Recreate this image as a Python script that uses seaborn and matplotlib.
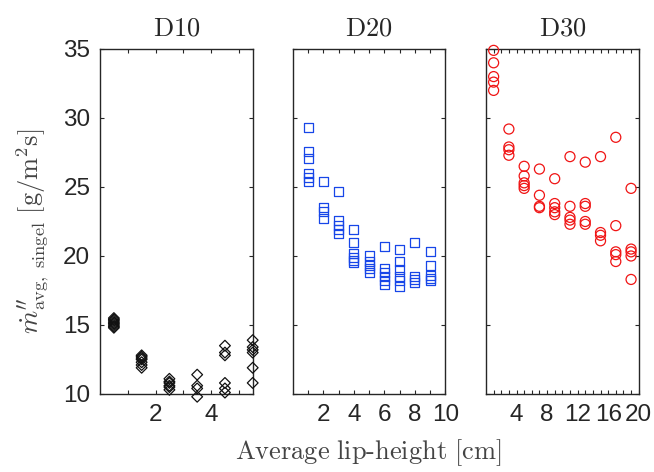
import numpy as np
import pandas as pd
import matplotlib
matplotlib.use("Agg")
import matplotlib.pyplot as plt
import seaborn as sns

# Lip heights [cm] per duct and measured single-point averages [g/m^2 s]
d10_x = [0.5, 1.5, 2.5, 3.5, 4.5, 5.5]
d10_y = [
    [14.8, 14.9, 15.0, 15.1, 15.2, 15.3, 15.4, 15.5],
    [12.8, 12.7, 12.6, 12.5, 12.3, 12.1, 11.9],
    [11.1, 10.9, 10.8, 10.6, 10.5, 10.3],
    [11.4, 10.6, 10.4, 9.8],
    [13.5, 13.0, 12.8, 10.8, 10.4, 10.1],
    [13.9, 13.4, 13.2, 13.0, 11.9, 10.8],
]

d20_x = [1, 2, 3, 4, 5, 6, 7, 8, 9]
d20_y = [
    [29.3, 27.6, 27.1, 26.0, 25.7, 25.4],
    [25.4, 23.5, 23.2, 22.7],
    [24.7, 22.6, 22.2, 21.9, 21.6],
    [21.9, 21.0, 20.2, 19.9, 19.7, 19.5],
    [20.0, 19.6, 19.3, 19.1, 18.8],
    [20.7, 19.1, 18.8, 18.5, 18.2, 17.9],
    [20.5, 19.6, 19.0, 18.5, 18.2, 17.8],
    [21.0, 18.5, 18.3, 18.1],
    [20.3, 19.3, 18.6, 18.4, 18.2],
]

d30_x = [1, 3, 5, 7, 9, 11, 13, 15, 17, 19]
d30_y = [
    [34.9, 34.0, 33.0, 32.6, 32.0],
    [29.2, 27.9, 27.7, 27.3],
    [26.5, 25.8, 25.3, 25.1, 24.9],
    [26.3, 24.4, 23.6, 23.5],
    [25.6, 23.8, 23.5, 23.2, 23.0],
    [27.2, 23.6, 22.8, 22.6, 22.3],
    [26.8, 23.8, 23.6, 22.5, 22.3],
    [27.2, 21.7, 21.5, 21.1],
    [28.6, 22.2, 20.3, 20.1, 19.6],
    [24.9, 20.5, 20.3, 20.0, 18.3],
]

panel_names = ["D10", "D20", "D30"]
panel_markers = ["D", "s", "o"]
panel_colors = ["#111111", "#1746e8", "#f01414"]
panel_sizes = [30, 42, 52]
panel_xlim = [(0, 5.5), (0, 10), (0, 20)]
panel_minor = [np.arange(1, 6), np.arange(1, 10), np.arange(1, 20)]
panel_major = [[2, 4], [2, 4, 6, 8, 10], [4, 8, 12, 16, 20]]


def to_frame(name, xs, ys):
    rows = []
    for x, vals in zip(xs, ys):
        for v in vals:
            rows.append({"duct": name, "lip": x, "flux": v})
    return pd.DataFrame(rows)


data = pd.concat([
    to_frame("D10", d10_x, d10_y),
    to_frame("D20", d20_x, d20_y),
    to_frame("D30", d30_x, d30_y),
], ignore_index=True)

sns.set_theme(style="white")
plt.rcParams["font.family"] = ["Liberation Sans", "DejaVu Sans"]
plt.rcParams["mathtext.fontset"] = "cm"

text_col = "#262626"
fig = plt.figure(figsize=(6.54, 4.72), dpi=100)
lefts = [0.1529, 0.4476, 0.7431]
axes = [fig.add_axes([l, 0.1653, 0.2335, 0.7309]) for l in lefts]

for i, ax in enumerate(axes):
    sub = data[data["duct"] == panel_names[i]]
    sns.scatterplot(
        data=sub, x="lip", y="flux", ax=ax,
        marker=panel_markers[i], s=panel_sizes[i],
        facecolor="none", edgecolor=panel_colors[i], linewidth=0.9,
        clip_on=False, legend=False, zorder=3,
    )
    ax.set_xlim(*panel_xlim[i])
    ax.set_ylim(10, 35)
    ax.set_xticks(panel_major[i])
    ax.set_xticks(panel_minor[i], minor=True)
    ax.set_yticks([10, 15, 20, 25, 30, 35])
    ax.tick_params(axis="both", which="both", direction="in",
                   top=True, right=True, bottom=True, left=True,
                   length=3, width=0.8, color=text_col,
                   labelsize=17.5, labelcolor=text_col, pad=7)
    ax.tick_params(axis="x", which="minor", length=3)
    if i > 0:
        ax.tick_params(axis="y", labelleft=False)
    for sp in ax.spines.values():
        sp.set_color(text_col)
        sp.set_linewidth(1.0)
    ax.set_xlabel("")
    ax.set_ylabel("")
    ax.set_title(r"$\mathrm{" + panel_names[i] + "}$", fontsize=19,
                 color=text_col, pad=10)

fig.text(0.563, 0.042, r"$\mathrm{Average\ lip\text{-}height\ [cm]}$",
         ha="center", va="center", fontsize=19, color="#444444")
fig.text(0.05, 0.51,
         r"$\dot{m}^{\prime\prime}_{\mathrm{avg,\ singel}}\ [\mathrm{g/m^2s}]$",
         ha="center", va="center", rotation=90, fontsize=19, color="#444444")

fig.savefig("out.png", dpi=100)
